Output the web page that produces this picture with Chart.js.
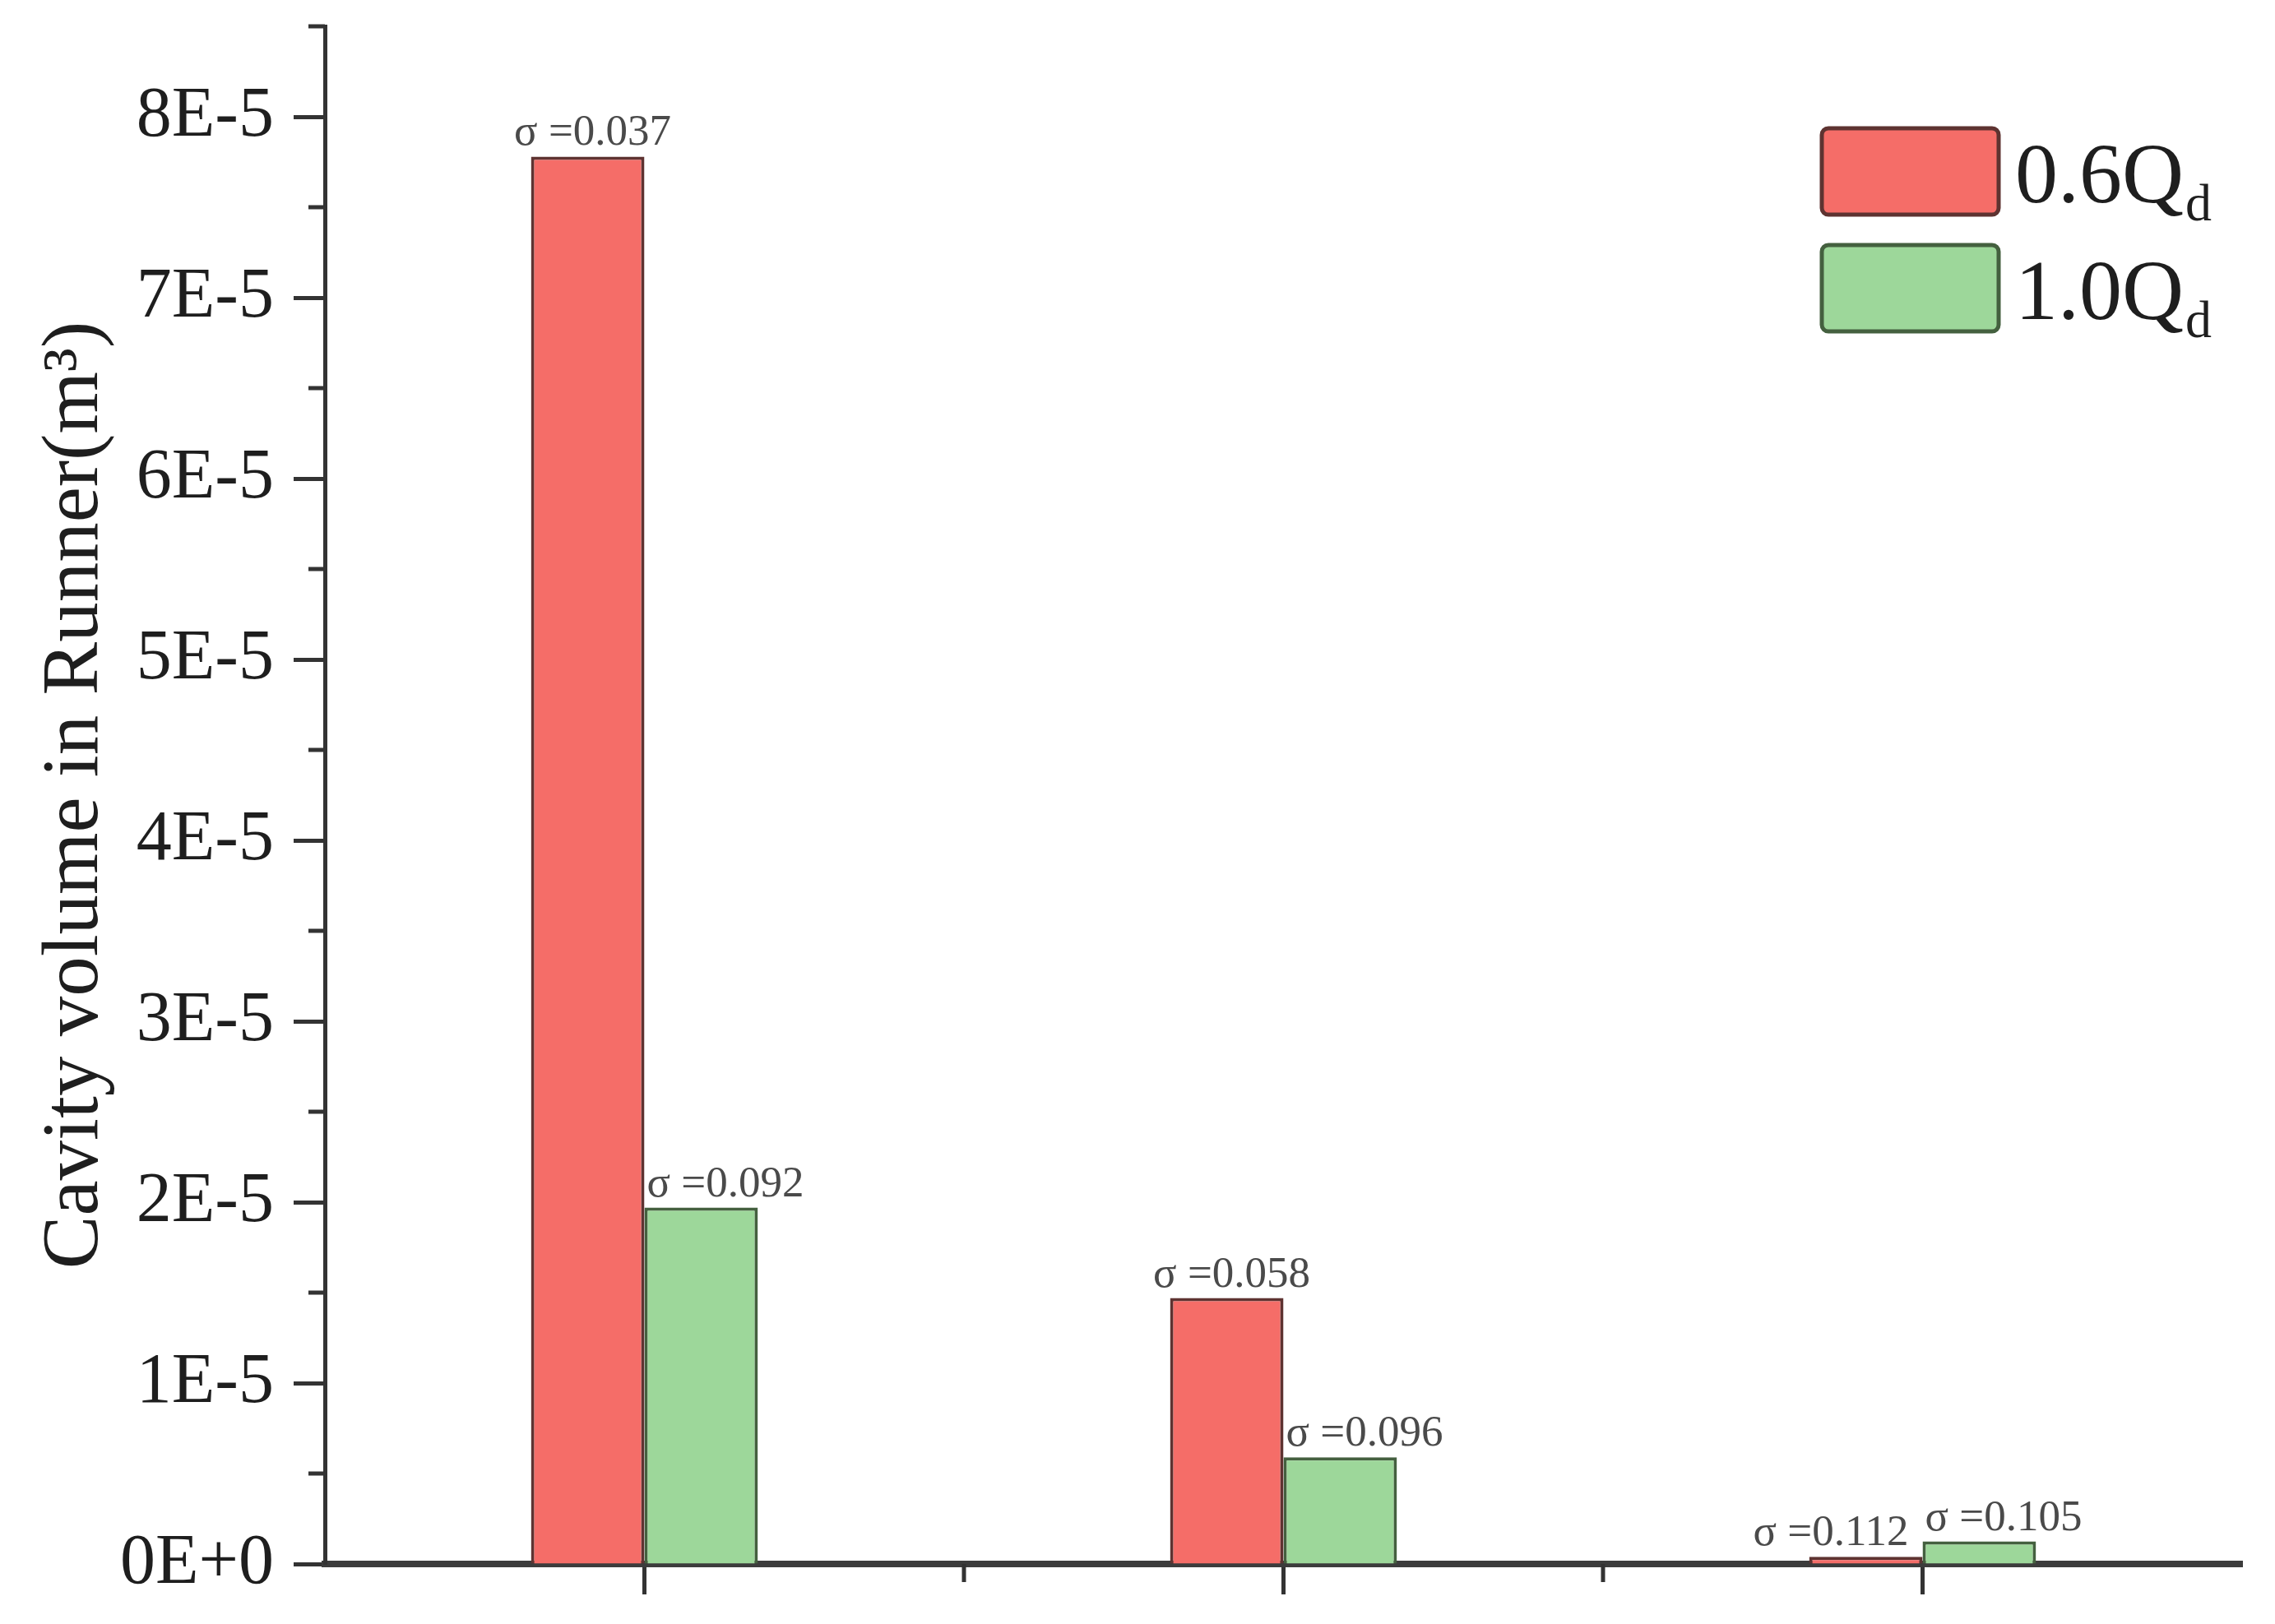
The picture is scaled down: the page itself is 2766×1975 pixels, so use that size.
<!DOCTYPE html>
<html>
<head>
<meta charset="utf-8">
<title>Cavity volume in Runner</title>
<script src="https://cdn.jsdelivr.net/npm/chart.js@4.4.1/dist/chart.umd.min.js"></script>
<style>
  html, body { margin: 0; padding: 0; background: #fff; }
  #wrap { width: 2766px; height: 1975px; }
</style>
</head>
<body>
<div id="wrap"><canvas id="chart" width="2766" height="1975"></canvas></div>
<script>
// ── Data ────────────────────────────────────────────────────────
const categories = ['1', '2', '3'];
const seriesNames = ['0.6Q', '1.0Q'];
const seriesSub = 'd';
const volume06 = [7.78e-5, 1.47e-5, 4e-7];
const volume10 = [1.97e-5, 5.9e-6, 1.25e-6];
const sigma06 = ['0.037', '0.058', '0.112'];
const sigma10 = ['0.092', '0.096', '0.105'];
const yTickValues = [0, 1e-5, 2e-5, 3e-5, 4e-5, 5e-5, 6e-5, 7e-5, 8e-5];
const yTickLabels = ['0E+0', '1E-5', '2E-5', '3E-5', '4E-5', '5E-5', '6E-5', '7E-5', '8E-5'];
const yMinorTicks = [0.5e-5, 1.5e-5, 2.5e-5, 3.5e-5, 4.5e-5, 5.5e-5, 6.5e-5, 7.5e-5, 8.5e-5];

const SERIF = "'Liberation Serif', 'Times New Roman', serif";
const AXIS = '#333333';
const FILLS = ['#f56d68', '#9dd79a'];
const EDGES = ['#5e3331', '#44603f'];

// ── Minor ticks (Origin style) ──────────────────────────────────
const minorTicks = {
  id: 'minorTicks',
  afterDraw(chart) {
    const { ctx, chartArea, scales } = chart;
    ctx.save();
    ctx.strokeStyle = AXIS;
    ctx.lineWidth = 5;
    ctx.beginPath();
    yMinorTicks.forEach(v => {
      const py = scales.y.getPixelForValue(v);
      ctx.moveTo(chartArea.left - 20, py);
      ctx.lineTo(chartArea.left, py);
    });
    for (let i = 0; i < categories.length - 1; i++) {
      const px = (scales.x.getPixelForValue(i) + scales.x.getPixelForValue(i + 1)) / 2;
      ctx.moveTo(px, chartArea.bottom);
      ctx.lineTo(px, chartArea.bottom + 22);
    }
    ctx.stroke();
    ctx.restore();
  },
};

// ── σ labels above bars ─────────────────────────────────────────
const sigmaLabels = {
  id: 'sigmaLabels',
  afterDatasetsDraw(chart) {
    const { ctx } = chart;
    const m0 = chart.getDatasetMeta(0).data;
    const m1 = chart.getDatasetMeta(1).data;
    const size = 53;
    ctx.save();
    ctx.font = `${size}px ${SERIF}`;
    ctx.fillStyle = '#4a4a4a';
    ctx.textBaseline = 'alphabetic';
    ctx.textAlign = 'left';
    for (let i = 0; i < categories.length; i++) {
      const r = m0[i], g = m1[i];
      const tr = 'σ =' + sigma06[i];
      const tg = 'σ =' + sigma10[i];
      const wr = ctx.measureText(tr).width;
      const gx = g.x - g.width / 2 + 3;
      const gy = g.y - 14;
      const ry = r.y - 14;
      let rx = r.x - wr / 2 + 6;
      if (Math.abs(ry - gy) < size && rx + wr > gx - 20) rx = gx - 20 - wr;
      ctx.fillText(tr, rx, ry);
      ctx.fillText(tg, gx, gy);
    }
    ctx.restore();
  },
};

// ── Legend with subscript ───────────────────────────────────────
const subLegend = {
  id: 'subLegend',
  afterDraw(chart) {
    const { ctx } = chart;
    const x = 2215, w = 215, h = 105;
    const tops = [156, 298];
    ctx.save();
    seriesNames.forEach((name, i) => {
      const y = tops[i];
      ctx.fillStyle = FILLS[i];
      ctx.strokeStyle = EDGES[i];
      ctx.lineWidth = 5;
      ctx.beginPath();
      ctx.roundRect(x, y, w, h, 8);
      ctx.fill();
      ctx.stroke();

      ctx.fillStyle = '#1e1e1e';
      ctx.textBaseline = 'alphabetic';
      ctx.textAlign = 'left';
      ctx.font = `104px ${SERIF}`;
      const base = y + h / 2 + 37;
      ctx.fillText(name, x + w + 20, base);
      const nw = ctx.measureText(name).width;
      ctx.font = `64px ${SERIF}`;
      ctx.fillText(seriesSub, x + w + 20 + nw + 2, base + 22);
    });
    ctx.restore();
  },
};

new Chart(document.getElementById('chart'), {
  type: 'bar',
  data: {
    labels: categories,
    datasets: [
      {
        label: seriesNames[0] + seriesSub,
        data: volume06,
        backgroundColor: FILLS[0],
        borderColor: EDGES[0],
        borderWidth: 4,
      },
      {
        label: seriesNames[1] + seriesSub,
        data: volume10,
        backgroundColor: FILLS[1],
        borderColor: EDGES[1],
        borderWidth: 4,
      },
    ],
  },
  options: {
    responsive: false,
    animation: false,
    devicePixelRatio: 1,
    categoryPercentage: 0.355,
    barPercentage: 1.0,
    layout: { padding: { top: 32, right: 40, bottom: 0, left: 0 } },
    plugins: {
      legend: { display: false },
      tooltip: { enabled: false },
    },
    scales: {
      x: {
        type: 'category',
        offset: true,
        grid: {
          display: true,
          offset: false,
          drawOnChartArea: false,
          drawTicks: true,
          tickLength: 37,
          tickWidth: 5,
          tickColor: AXIS,
        },
        border: { display: true, color: '#3c3c3c', width: 8 },
        ticks: { display: false },
        afterFit: (s) => { s.height = 73; s.paddingLeft = 0; s.paddingRight = 0; },
      },
      y: {
        type: 'linear',
        min: 0,
        max: 8.5e-5,
        afterBuildTicks: (s) => { s.ticks = yTickValues.map(v => ({ value: v })); },
        ticks: {
          callback: (v, i) => yTickLabels[i],
          font: { family: SERIF, size: 86 },
          color: '#1e1e1e',
          padding: 24,
        },
        grid: {
          display: true,
          drawOnChartArea: false,
          drawTicks: true,
          tickLength: 38,
          tickWidth: 5,
          tickColor: AXIS,
        },
        border: { display: true, color: AXIS, width: 5 },
        title: {
          display: true,
          text: 'Cavity volume in Runner(m³)',
          font: { family: SERIF, size: 97 },
          color: '#1e1e1e',
          padding: { top: 34, bottom: 0 },
        },
        afterFit: (s) => { s.width = 395; s.paddingTop = 0; s.paddingBottom = 0; },
      },
    },
  },
  plugins: [minorTicks, sigmaLabels, subLegend],
});
</script>
</body>
</html>
